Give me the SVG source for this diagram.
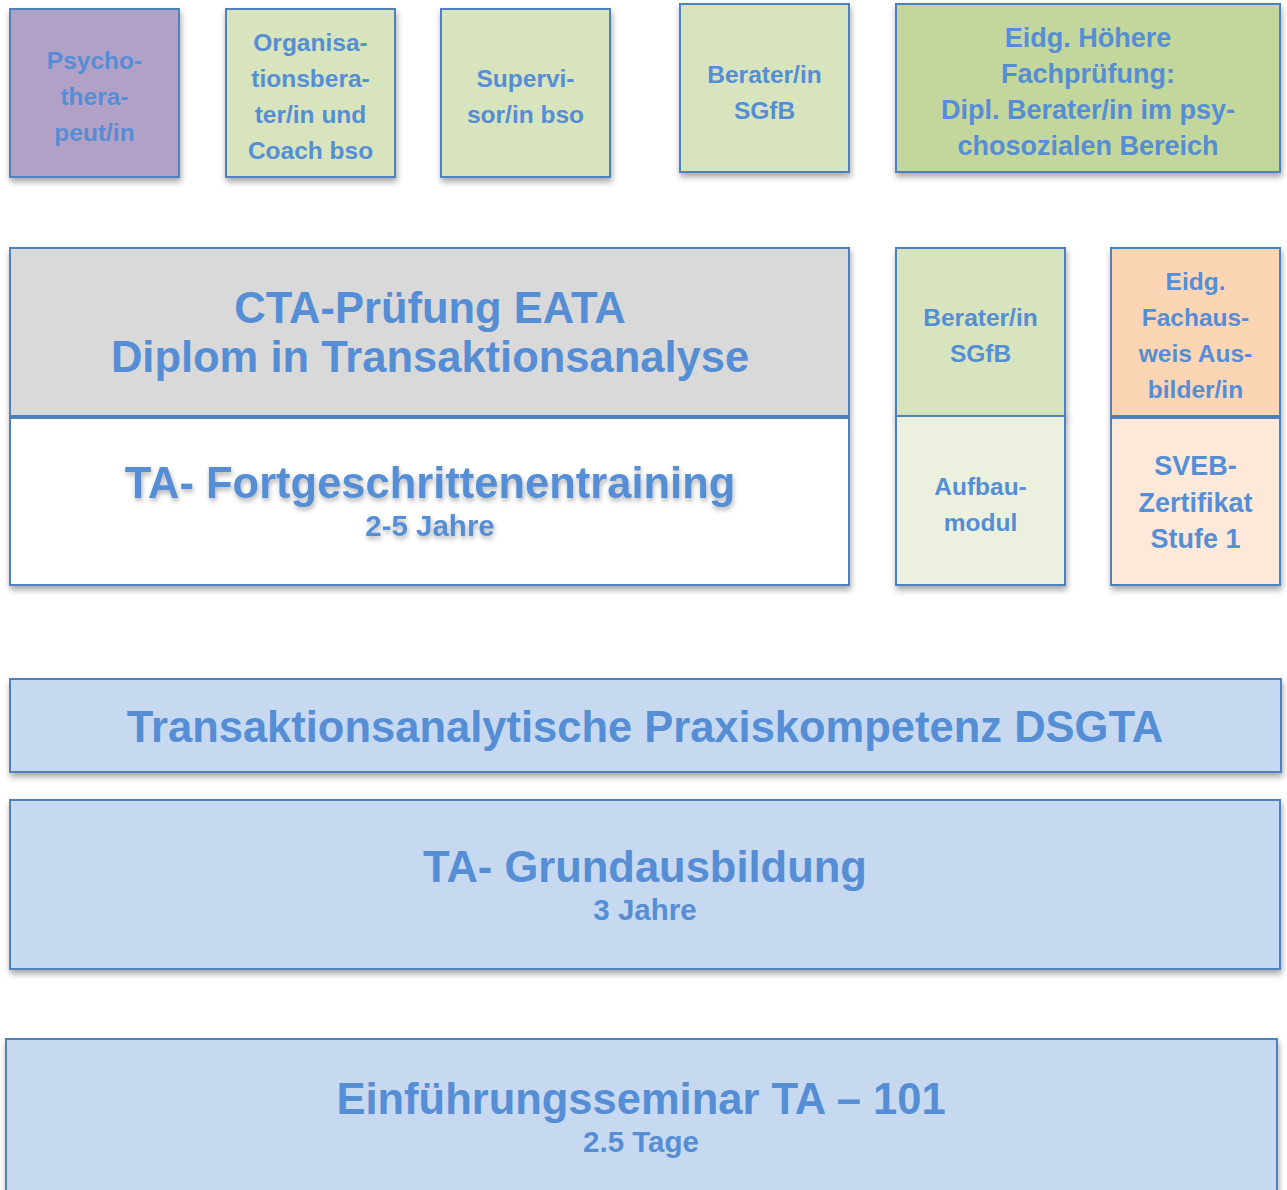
<svg xmlns="http://www.w3.org/2000/svg" width="1287" height="1190" viewBox="0 0 1287 1190">
<style>
.box{stroke:#4f81bd;stroke-width:2}
text{font-family:"Liberation Sans",Arial,sans-serif;font-weight:bold;fill:#558ed5;text-anchor:middle}
.s{font-size:24.5px}
.m{font-size:27px}
.l{font-size:43.5px}
.sub{font-size:29.5px}
</style>
<defs>
<filter id="sh" x="-10%" y="-10%" width="120%" height="130%">
<feDropShadow dx="1" dy="4" stdDeviation="3" flood-color="#000" flood-opacity="0.35"/>
</filter>
<filter id="tsh" x="-5%" y="-20%" width="110%" height="160%">
<feDropShadow dx="1" dy="3" stdDeviation="2.5" flood-color="#000" flood-opacity="0.3"/>
</filter>
</defs>
<g id="psychotherapeut">
<rect class="box" x="10" y="9" width="169" height="168" fill="#b2a1c7" filter="url(#sh)"/>
<text class="s" x="94.5" y="69">Psycho-</text>
<text class="s" x="94.5" y="105">thera-</text>
<text class="s" x="94.5" y="141">peut/in</text>
</g>
<g id="organisationsberater">
<rect class="box" x="226" y="9" width="169" height="168" fill="#d7e4bd" filter="url(#sh)"/>
<text class="s" x="310.5" y="51">Organisa-</text>
<text class="s" x="310.5" y="87">tionsbera-</text>
<text class="s" x="310.5" y="123">ter/in und</text>
<text class="s" x="310.5" y="159">Coach bso</text>
</g>
<g id="supervisor">
<rect class="box" x="441" y="9" width="169" height="168" fill="#d7e4bd" filter="url(#sh)"/>
<text class="s" x="525.5" y="87">Supervi-</text>
<text class="s" x="525.5" y="123">sor/in bso</text>
</g>
<g id="berater-top">
<rect class="box" x="680" y="4" width="169" height="168" fill="#d7e4bd" filter="url(#sh)"/>
<text class="s" x="764.5" y="83">Berater/in</text>
<text class="s" x="764.5" y="119">SGfB</text>
</g>
<g id="hoehere-fachpruefung">
<rect class="box" x="896" y="4" width="384" height="168" fill="#c3d69b" filter="url(#sh)"/>
<text class="m" x="1088" y="47">Eidg. Höhere</text>
<text class="m" x="1088" y="83">Fachprüfung:</text>
<text class="m" x="1088" y="119">Dipl. Berater/in im psy-</text>
<text class="m" x="1088" y="155">chosozialen Bereich</text>
</g>
<g id="cta">
<rect class="box" x="10" y="248" width="839" height="168" fill="#d9d9d9" filter="url(#sh)"/>
<text class="l" x="430" y="323">CTA-Prüfung EATA</text>
<text class="l" x="430" y="372">Diplom in Transaktionsanalyse</text>
</g>
<g id="fortgeschrittenentraining">
<rect class="box" x="10" y="418" width="839" height="167" fill="#ffffff" filter="url(#sh)"/>
<text class="l" x="430" y="498" filter="url(#tsh)">TA- Fortgeschrittenentraining</text>
<text class="sub" x="430" y="536" filter="url(#tsh)">2-5 Jahre</text>
</g>
<g id="berater-sgfb">
<rect class="box" x="896" y="248" width="169" height="168" fill="#d7e4bd" filter="url(#sh)"/>
<text class="s" x="980.5" y="326">Berater/in</text>
<text class="s" x="980.5" y="362">SGfB</text>
</g>
<g id="aufbaumodul">
<rect class="box" x="896" y="416" width="169" height="169" fill="#ebf1de" filter="url(#sh)"/>
<text class="s" x="980.5" y="495">Aufbau-</text>
<text class="s" x="980.5" y="531">modul</text>
</g>
<g id="fachausweis">
<rect class="box" x="1111" y="248" width="169" height="168" fill="#fcd5b5" filter="url(#sh)"/>
<text class="s" x="1195.5" y="290">Eidg.</text>
<text class="s" x="1195.5" y="326">Fachaus-</text>
<text class="s" x="1195.5" y="362">weis Aus-</text>
<text class="s" x="1195.5" y="398">bilder/in</text>
</g>
<g id="sveb">
<rect class="box" x="1111" y="418" width="169" height="167" fill="#fde9d9" filter="url(#sh)"/>
<text class="m" x="1195.5" y="475">SVEB-</text>
<text class="m" x="1195.5" y="511.5">Zertifikat</text>
<text class="m" x="1195.5" y="548">Stufe 1</text>
</g>
<g id="praxiskompetenz">
<rect class="box" x="10" y="679" width="1271" height="93" fill="#c6d9f1" filter="url(#sh)"/>
<text class="l" x="645" y="742">Transaktionsanalytische Praxiskompetenz DSGTA</text>
</g>
<g id="grundausbildung">
<rect class="box" x="10" y="800" width="1270" height="169" fill="#c6d9f1" filter="url(#sh)"/>
<text class="l" x="645" y="882">TA- Grundausbildung</text>
<text class="sub" x="645" y="920">3 Jahre</text>
</g>
<g id="einfuehrungsseminar">
<rect class="box" x="6" y="1039" width="1271" height="170" fill="#c6d9f1" filter="url(#sh)"/>
<text class="l" x="641" y="1114">Einführungsseminar TA – 101</text>
<text class="sub" x="641" y="1152">2.5 Tage</text>
</g>
<g id="connectors"/>
</svg>
